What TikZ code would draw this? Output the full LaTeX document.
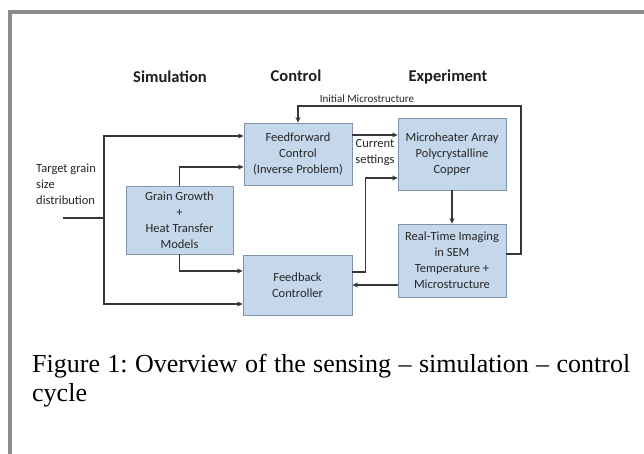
\documentclass[tikz,border=0pt]{standalone}
\usepackage{fontspec}
\usetikzlibrary{arrows.meta,calc}
\newfontfamily\carl{Carlito}
\newfontfamily\tnr{Liberation Serif}
\definecolor{boxfill}{HTML}{C5D7EB}
\definecolor{boxline}{HTML}{8294AC}
\definecolor{wire}{HTML}{363636}
\definecolor{framec}{HTML}{8C8C8C}
\tikzset{
  blk/.style={draw=boxline, fill=boxfill, line width=0.8pt, inner sep=0pt,
    align=center, font=\carl\fontsize{12.5}{16}\selectfont, text=black!85},
  wireline/.style={draw=wire, line width=1.5pt},
  arr/.style={wireline, -{Stealth[length=5.5pt,width=5pt]}},
  hdr/.style={font=\carl\bfseries\fontsize{16.5}{20}\selectfont, text=black!88},
  lbl/.style={font=\carl\fontsize{12.5}{16}\selectfont, text=black!85, inner sep=0pt},
  captxt/.style={anchor=base west, inner sep=0pt, font=\tnr\fontsize{26}{30}\selectfont\frenchspacing},
}
\begin{document}
\begin{tikzpicture}[x=1pt,y=-1pt]
\useasboundingbox (0,0) rectangle (644,454);
\fill[white] (0,0) rectangle (644,454);
% frame
\draw[framec, line width=4pt] (10,454) -- (10,12) -- (644,12);
% headers
\node[hdr] (hsim) at (170,77) {Simulation};
\node[hdr] (hctl) at (296,76) {Control};
\node[hdr] (hexp) at (448,77) {Experiment};
% boxes
\node[blk, minimum width=108pt, minimum height=62pt] (ff) at (298,154) {Feedforward\\Control\\(Inverse Problem)};
\node[blk, minimum width=108pt, minimum height=72pt] (mh) at (452,154) {Microheater Array\\Polycrystalline\\Copper};
\node[blk, minimum width=108pt, minimum height=73pt] (rt) at (452,260.5) {Real-Time Imaging\\in SEM\\Temperature +\\Microstructure};
\node[blk, minimum width=107pt, minimum height=68pt] (gg) at (179.5,220) {Grain Growth\\+\\Heat Transfer\\Models};
\node[blk, minimum width=109pt, minimum height=60pt] (fb) at (297.5,285) {Feedback\\Controller};
% labels
\node[lbl, font=\carl\fontsize{11}{13}\selectfont] (initlbl) at (367,99) {Initial Microstructure};
\node[lbl, align=center] (curlbl) at (375,152.5) {Current\\settings};
\node[lbl, align=left, anchor=north west] (tgt) at (36,164) {Target grain\\size\\distribution};
% connectors
\coordinate (t0) at (63,218);
\coordinate (j) at (104,218);
\coordinate (ja) at (104,136);
\coordinate (jb) at (104,304);
\draw[wireline] (t0) -- (j);
\draw[arr] (j) -- (ja) -- (ff.west |- ja);
\draw[arr] (j) -- (jb) -- (fb.west |- jb);
\draw[arr] (gg.north) |- ([yshift=-13pt]ff.west);
\draw[arr] (gg.south) |- ([yshift=14pt]fb.west);
\draw[arr] ([yshift=19pt]ff.east) -- ([yshift=19pt]mh.west);
\draw[arr] ([yshift=13pt]fb.east) -- ++(13pt,0) |- ([yshift=-24pt]mh.west);
\draw[arr] (mh) -- (rt);
\draw[arr] (rt.west |- fb.east) -- (fb.east);
\coordinate (loopc) at (521,106);
\draw[arr] ([yshift=6.5pt]rt.east) -| (loopc) -| (ff.north);
% caption
\node[captxt] (cap1) at (32,372)
  {\hbox to 598pt{Figure 1: Overview of the sensing – simulation – control}};
\node[captxt] (cap2) at (32,401) {cycle};
\end{tikzpicture}
\end{document}
